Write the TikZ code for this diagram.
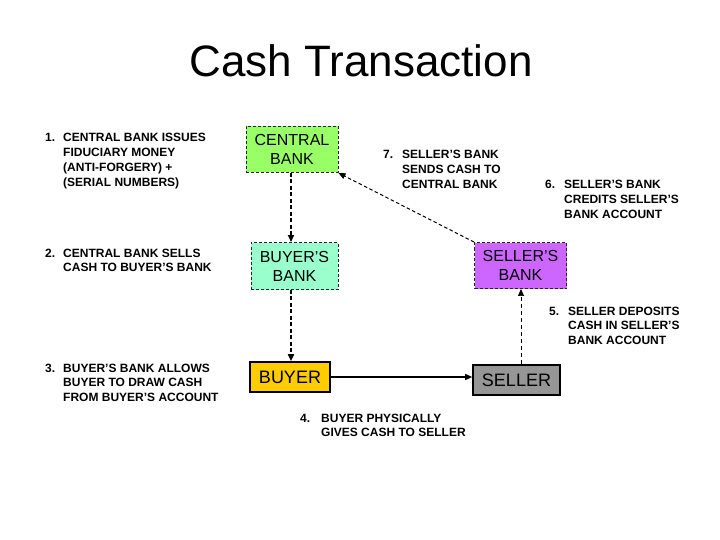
\documentclass[tikz,border=0pt]{standalone}
\usepackage{fontspec}
\setmainfont{Liberation Sans}
\usetikzlibrary{arrows.meta}
\definecolor{cbgreen}{HTML}{99FF66}
\definecolor{bbaqua}{HTML}{99FFCC}
\definecolor{sbviolet}{HTML}{CC66FF}
\definecolor{buygold}{HTML}{FFCC00}
\definecolor{selgray}{HTML}{969696}
\tikzset{
  bankbox/.style={draw=black!85, dashed, dash pattern=on 3pt off 2pt, line width=0.9pt,
    minimum width=#1, inner sep=0pt, align=center, font=\fontsize{16}{19}\selectfont},
  partybox/.style={draw=black, line width=1.6pt, minimum width=#1, minimum height=30pt,
    inner sep=0pt, align=center, font=\fontsize{18}{20}\selectfont},
  steplabel/.style={anchor=base west, inner sep=0pt, font=\bfseries\fontsize{12}{14.7}\selectfont},
  tipa/.style={-{Triangle[length=7pt,width=6pt]}},
  dasharrow/.style={tipa, dash pattern=on 4pt off 2.5pt, line width=1.6pt},
  thindash/.style={tipa, dash pattern=on 3.5pt off 2.5pt, line width=1pt},
  finedash/.style={tipa, dash pattern=on 4pt off 3pt, line width=0.7pt},
  solidarrow/.style={tipa, line width=1.4pt}
}
\newcommand{\steptext}[3]{\begin{tabular}[t]{@{}p{#1}@{}l@{}}#2 & #3\end{tabular}}
\begin{document}
\begin{tikzpicture}[x=1pt,y=-1pt]
\useasboundingbox[fill=white] (0,0) rectangle (720,540);
\node[anchor=base, inner sep=0pt, font=\fontsize{44}{50}\selectfont] (title) at (361,77) {Cash Transaction};

\node[bankbox=92pt, minimum height=46pt, fill=cbgreen] (CB) at (292,149.5) {CENTRAL\\BANK};
\node[bankbox=87pt, minimum height=47pt, fill=bbaqua] (BB) at (294.5,266) {BUYER’S\\BANK};
\node[bankbox=92pt, minimum height=46pt, fill=sbviolet] (SB) at (520.5,265.5) {SELLER’S\\BANK};
\node[partybox=80pt, fill=buygold] (BUY) at (290,377) {BUYER};
\node[partybox=87pt, fill=selgray] (SEL) at (516.5,380) {SELLER};

\draw[dasharrow] (CB.south -| 291,0) -- (BB.north -| 291,0);
\draw[dasharrow] (BB.south -| 291,0) -- (BUY.north -| 291,0);
\draw[solidarrow] (BUY.east) -- (BUY.east -| SEL.west);
\draw[finedash] (SEL.north -| 521,0) -- (SB.south -| 521,0);
\draw[thindash] (SB.north west) -- (CB.south east);

\node[steplabel] (l1) at (45,142) {\steptext{18pt}{1.}{CENTRAL BANK ISSUES\\ & FIDUCIARY MONEY\\ & (ANTI-FORGERY) +\\ & (SERIAL NUMBERS)}};
\node[steplabel] (l2) at (45,257) {\steptext{18pt}{2.}{CENTRAL BANK SELLS\\ & CASH TO BUYER’S BANK}};
\node[steplabel] (l3) at (45,372) {\steptext{18pt}{3.}{BUYER’S BANK ALLOWS\\ & BUYER TO DRAW CASH\\ & FROM BUYER’S ACCOUNT}};
\node[steplabel] (l7) at (383,159) {\steptext{19pt}{7.}{SELLER’S BANK\\ & SENDS CASH TO\\ & CENTRAL BANK}};
\node[steplabel] (l6) at (545,189) {\steptext{19pt}{6.}{SELLER’S BANK\\ & CREDITS SELLER’S\\ & BANK ACCOUNT}};
\node[steplabel] (l5) at (549,315) {\steptext{19pt}{5.}{SELLER DEPOSITS\\ & CASH IN SELLER’S\\ & BANK ACCOUNT}};
\node[steplabel] (l4) at (300,422) {\steptext{21pt}{4.}{BUYER PHYSICALLY\\ & GIVES CASH TO SELLER}};
\end{tikzpicture}
\end{document}
